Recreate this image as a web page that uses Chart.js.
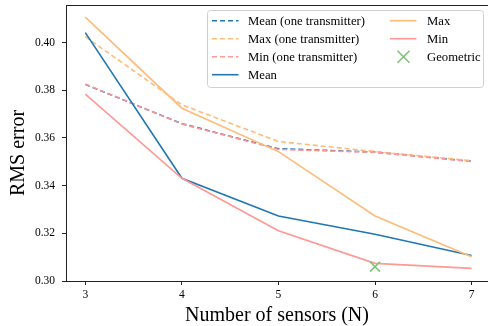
<!DOCTYPE html>
<html lang="en">
<head>
  <meta charset="UTF-8" />
  <title>RMS error vs number of sensors</title>
  <script src="https://cdn.jsdelivr.net/npm/chart.js"></script>
  <style>
    body {
      margin: 0;
      background: #fff;
    }
    canvas {
      display: block;
    }
  </style>
</head>
<body>
  <canvas id="chart" width="488" height="326"></canvas>

  <script>
    // data
    const sensors = [3, 4, 5, 6, 7];
    const meanOne = [0.3825, 0.3660, 0.3555, 0.3541, 0.3502];
    const maxOne = [0.4025, 0.3739, 0.3585, 0.3543, 0.3505];
    const minOne = [0.3826, 0.3659, 0.3552, 0.3540, 0.3501];
    const meanAll = [0.4042, 0.3431, 0.3273, 0.3196, 0.3107];
    const maxAll = [0.4107, 0.3725, 0.3543, 0.3273, 0.3102];
    const minAll = [0.3784, 0.3431, 0.3211, 0.3074, 0.3053];
    const geoX = [6];
    const geoY = [0.306];
    const xTicks = [3, 4, 5, 6, 7];
    const yTicks = [0.30, 0.32, 0.34, 0.36, 0.38, 0.40];

    const BLUE = '#1f77b4';
    const ORANGE = '#ffbb78';
    const PINK = '#ff9896';
    const GREEN = '#7cc474';

    const pts = (ys, xs = sensors) => xs.map((x, i) => ({ x: x, y: ys[i] }));

    const line = (label, ys, color, dashed, order) => ({
      type: 'line',
      label: label,
      data: pts(ys),
      borderColor: color,
      backgroundColor: color,
      borderWidth: 1.6,
      borderDash: dashed ? [5, 3] : [],
      pointRadius: 0,
      tension: 0,
      fill: false,
      order: order
    });

    const datasets = [
      line('Mean (one transmitter)', meanOne, BLUE, true, 7),
      line('Max (one transmitter)', maxOne, ORANGE, true, 6),
      line('Min (one transmitter)', minOne, PINK, true, 5),
      line('Mean', meanAll, BLUE, false, 4),
      line('Max', maxAll, ORANGE, false, 3),
      line('Min', minAll, PINK, false, 2),
      {
        type: 'scatter',
        label: 'Geometric',
        data: pts(geoY, geoX),
        borderColor: GREEN,
        backgroundColor: GREEN,
        pointStyle: 'crossRot',
        pointRadius: 7,
        borderWidth: 1.6,
        order: 1
      }
    ];

    // matplotlib-like legend: two columns, filled column by column
    const legendPlugin = {
      id: 'mplLegend',
      afterDraw(chart) {
        const ctx = chart.ctx;
        const box = { x: 207.5, y: 10.5, w: 276, h: 77 };
        ctx.save();
        ctx.fillStyle = 'rgba(255,255,255,0.8)';
        ctx.strokeStyle = '#d0d0d0';
        ctx.lineWidth = 1;
        ctx.beginPath();
        ctx.roundRect(box.x, box.y, box.w, box.h, 3);
        ctx.fill();
        ctx.stroke();

        ctx.font = '12.7px "Liberation Serif"';
        ctx.textBaseline = 'middle';
        ctx.fillStyle = '#000';
        const cols = [{ hx: 212, tx: 248 }, { hx: 390, tx: 427 }];
        const rows = [20.7, 38.7, 56.7, 74.7];
        chart.data.datasets.forEach((ds, i) => {
          const col = cols[i < 4 ? 0 : 1];
          const y = rows[i < 4 ? i : i - 4];
          ctx.strokeStyle = ds.borderColor;
          ctx.lineWidth = 1.6;
          if (ds.type === 'scatter') {
            const cx = col.hx + 13.5, r = 6;
            ctx.setLineDash([]);
            ctx.beginPath();
            ctx.moveTo(cx - r, y - r); ctx.lineTo(cx + r, y + r);
            ctx.moveTo(cx - r, y + r); ctx.lineTo(cx + r, y - r);
            ctx.stroke();
          } else {
            ctx.setLineDash(ds.borderDash);
            ctx.beginPath();
            ctx.moveTo(col.hx, y);
            ctx.lineTo(col.hx + 26.5, y);
            ctx.stroke();
          }
          ctx.setLineDash([]);
          ctx.fillText(ds.label, col.tx, y + 0.5);
        });
        ctx.restore();
      }
    };

    // top spine + y axis title (placed like the original, a bit below centre)
    const framePlugin = {
      id: 'frame',
      afterDraw(chart) {
        const a = chart.chartArea;
        const ctx = chart.ctx;
        ctx.save();
        ctx.strokeStyle = '#222';
        ctx.lineWidth = 1;
        ctx.beginPath();
        ctx.moveTo(a.left, a.top + 0.5);
        ctx.lineTo(a.right, a.top + 0.5);
        ctx.stroke();

        ctx.translate(19, 153);
        ctx.rotate(-Math.PI / 2);
        ctx.font = '20px "Liberation Serif"';
        ctx.fillStyle = '#000';
        ctx.textAlign = 'center';
        ctx.textBaseline = 'middle';
        ctx.fillText('RMS error', 0, 0);
        ctx.restore();
      }
    };

    const noPad = s => {
      s.paddingTop = 0;
      s.paddingBottom = 0;
      s.paddingLeft = 0;
      s.paddingRight = 0;
    };

    Chart.defaults.font.family = '"Liberation Serif", "DejaVu Serif", serif';
    Chart.defaults.color = '#000';

    new Chart(document.getElementById('chart').getContext('2d'), {
      data: { datasets: datasets },
      options: {
        responsive: false,
        animation: false,
        layout: { autoPadding: false, padding: { top: 5, right: 0, left: 0, bottom: 0 } },
        scales: {
          x: {
            type: 'linear',
            min: 2.8,
            max: 7.17,
            afterBuildTicks(s) { s.ticks = xTicks.map(v => ({ value: v })); },
            afterFit(s) { s.height = 45; noPad(s); },
            grid: { drawOnChartArea: false, drawTicks: true, tickLength: 4, color: '#222' },
            border: { display: true, color: '#222', width: 1 },
            ticks: { font: { size: 11.5 }, padding: 3, maxRotation: 0 },
            title: { display: true, text: 'Number of sensors (N)', font: { size: 20, lineHeight: 1 }, padding: { top: 0, bottom: 0 } }
          },
          y: {
            min: 0.30,
            max: 0.4158,
            afterBuildTicks(s) { s.ticks = yTicks.map(v => ({ value: v })); },
            afterFit(s) { s.width = 66; noPad(s); },
            grid: { drawOnChartArea: false, drawTicks: true, tickLength: 4, color: '#222' },
            border: { display: true, color: '#222', width: 1 },
            ticks: { font: { size: 11.5 }, padding: 7, callback: v => v.toFixed(2) },
            title: { display: false }
          }
        },
        plugins: {
          legend: { display: false },
          tooltip: { enabled: false }
        }
      },
      plugins: [legendPlugin, framePlugin]
    });
  </script>
</body>
</html>
